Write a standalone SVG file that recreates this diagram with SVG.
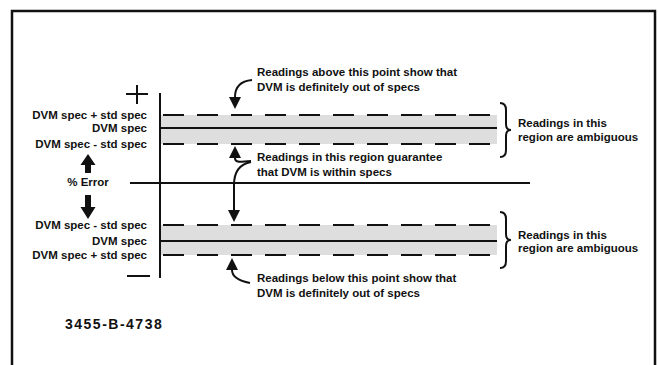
<svg xmlns="http://www.w3.org/2000/svg" width="658" height="365" viewBox="0 0 658 365">
<style>
.t{font-family:"Liberation Sans",Arial,sans-serif;font-size:11.5px;font-weight:bold;fill:#111}
.r{text-anchor:end}
.c{text-anchor:middle}
.ln{stroke:#111;stroke-width:2;fill:none}
.dash{stroke:#111;stroke-width:2;stroke-dasharray:21 13;fill:none}
.band{fill:#dedede}
.conn{stroke:#111;stroke-width:2;fill:none}
</style>
<defs>
<marker id="ah" viewBox="0 0 10 10" refX="0" refY="5" markerUnits="userSpaceOnUse" markerWidth="12" markerHeight="13" orient="auto">
<path d="M0,0 L10,5 L0,10 z" fill="#111"/>
</marker>
</defs>
<rect x="0" y="0" width="658" height="365" fill="#fff"/>
<rect x="12" y="11" width="643" height="370" fill="none" stroke="#111" stroke-width="2.5"/>

<g id="axes">
<line class="ln" x1="160" y1="93" x2="160" y2="278"/>
<line class="ln" x1="130" y1="183" x2="530" y2="183" stroke-width="1.6"/>
<line class="ln" x1="126" y1="94" x2="148" y2="94"/>
<line class="ln" x1="137" y1="85" x2="137" y2="104"/>
<line class="ln" x1="127" y1="276" x2="150" y2="276"/>
</g>

<g id="upper-band">
<rect class="band" x="161" y="115" width="336" height="29"/>
<line class="dash" x1="163" y1="115" x2="497" y2="115"/>
<line class="ln" x1="161" y1="128" x2="497" y2="128"/>
<line class="dash" x1="163" y1="144" x2="497" y2="144"/>
<path class="ln" d="M500,103 Q506,103 506,110 L506,124 Q506,130 511,130 Q506,130 506,136 L506,150 Q506,157 500,157"/>
</g>

<g id="lower-band">
<rect class="band" x="161" y="225" width="336" height="30"/>
<line class="dash" x1="163" y1="225" x2="497" y2="225"/>
<line class="ln" x1="161" y1="241" x2="497" y2="241"/>
<line class="dash" x1="163" y1="255" x2="497" y2="255"/>
<path class="ln" d="M500,212 Q506,212 506,219 L506,234 Q506,240 511,240 Q506,240 506,246 L506,261 Q506,268 500,268"/>
</g>

<g id="upper-labels">
<text class="t r" x="147" y="119">DVM spec + std spec</text>
<text class="t r" x="147" y="132">DVM spec</text>
<text class="t r" x="147" y="148">DVM spec - std spec</text>
</g>

<g id="error-label">
<polygon points="88,154 95.5,165 91,165 91,173 85,173 85,165 80.5,165" fill="#111"/>
<text class="t c" x="88" y="186">% Error</text>
<polygon points="85,195 91,195 91,207 95.5,207 88,219 80.5,207 85,207" fill="#111"/>
</g>

<g id="lower-labels">
<text class="t r" x="147" y="229">DVM spec - std spec</text>
<text class="t r" x="147" y="245">DVM spec</text>
<text class="t r" x="147" y="259">DVM spec + std spec</text>
</g>

<g id="note-top">
<text class="t" x="257" y="76">Readings above this point show that</text>
<text class="t" x="257" y="91">DVM is definitely out of specs</text>
</g>
<g id="note-mid">
<text class="t" x="257" y="161">Readings in this region guarantee</text>
<text class="t" x="257" y="176">that DVM is within specs</text>
</g>
<g id="note-bottom">
<text class="t" x="257" y="282">Readings below this point show that</text>
<text class="t" x="257" y="297">DVM is definitely out of specs</text>
</g>
<g id="note-amb-upper">
<text class="t" x="518" y="127">Readings in this</text>
<text class="t" x="518" y="141">region are ambiguous</text>
</g>
<g id="note-amb-lower">
<text class="t" x="518" y="239">Readings in this</text>
<text class="t" x="518" y="252">region are ambiguous</text>
</g>

<g id="connectors">
<path class="conn" d="M252,80 C242,81 235,86 235,97" marker-end="url(#ah)"/>
<path class="conn" d="M251,161 C243,161 235,164 235,158" marker-end="url(#ah)"/>
<path class="conn" d="M251,162 C240,164 234,172 234,185 L234,210" marker-end="url(#ah)"/>
<path class="conn" d="M250,283 C240,281 232,277 232,270" marker-end="url(#ah)"/>
</g>

<text class="t" x="65" y="329" style="font-size:14px;letter-spacing:1.5px">3455-B-4738</text>
</svg>
